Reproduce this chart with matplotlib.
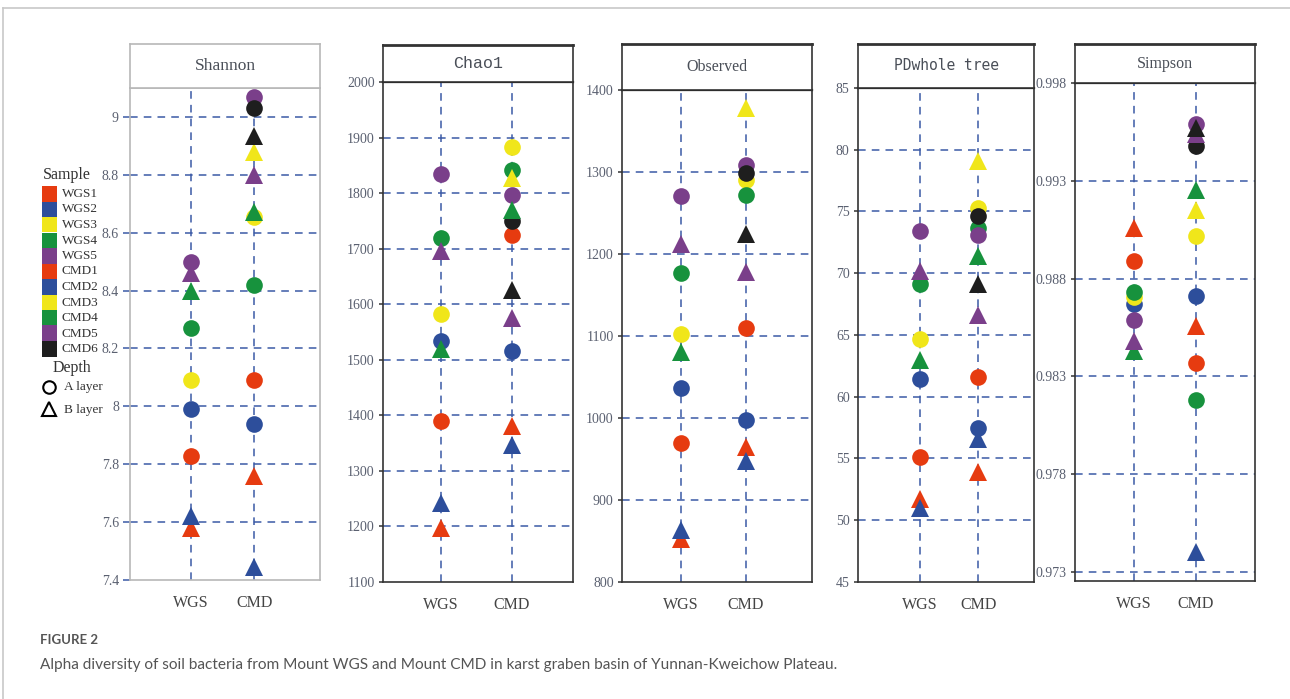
import numpy as np
import matplotlib
matplotlib.use('Agg')
import matplotlib.pyplot as plt
from matplotlib.patches import Rectangle
from matplotlib.lines import Line2D

nan = np.nan

# samples and colours
wgs_samples = ['WGS1', 'WGS2', 'WGS3', 'WGS4', 'WGS5']
cmd_samples = ['CMD1', 'CMD2', 'CMD3', 'CMD4', 'CMD5', 'CMD6']
wgs_colors = ['#e63b10', '#2d4e9b', '#f0e61a', '#17923d', '#7a3f8a']
cmd_colors = ['#e63b10', '#2d4e9b', '#f0e61a', '#17923d', '#7a3f8a', '#1e1e1e']
groups = ['WGS', 'CMD']

# values (A layer = circle, B layer = triangle)
shannon_wgs_a = [7.83, 7.99, 8.09, 8.27, 8.50]
shannon_wgs_b = [7.58, 7.62, nan, 8.40, 8.46]
shannon_cmd_a = [8.09, 7.94, 8.654, 8.42, 9.07, 9.03]
shannon_cmd_b = [7.76, 7.445, 8.88, 8.67, 8.80, 8.935]

chao1_wgs_a = [1390, 1533, 1583, 1720, 1835]
chao1_wgs_b = [1197, 1243, nan, 1520, 1695]
chao1_cmd_a = [1725, 1515, 1883, 1842, 1797, 1750]
chao1_cmd_b = [1381, 1347, 1827, 1770, 1575, 1625]

observed_wgs_a = [970, 1037, 1103, 1177, 1271]
observed_wgs_b = [852, 863, nan, 1081, 1212]
observed_cmd_a = [1110, 998, 1290, 1272, 1308, 1299]
observed_cmd_b = [965, 947, 1378, nan, 1178, 1224]

pd_wgs_a = [55.1, 61.4, 64.7, 69.1, 73.4]
pd_wgs_b = [51.7, 51.0, nan, 63.0, 70.2]
pd_cmd_a = [61.6, 57.5, 75.3, 73.7, 73.1, 74.6]
pd_cmd_b = [53.9, 56.6, 79.1, 71.4, 66.6, 69.1]

simpson_wgs_a = [0.9889, 0.9867, 0.98705, 0.9873, 0.9859]
simpson_wgs_b = [0.9906, nan, nan, 0.9843, 0.9848]
simpson_cmd_a = [0.9837, 0.9871, 0.9902, 0.9818, 0.9959, 0.9948]
simpson_cmd_b = [0.9856, 0.9740, 0.9915, 0.99255, 0.9954, 0.9957]

W, H = 1290, 699
fig = plt.figure(figsize=(W / 100, H / 100), dpi=100)
fig.patch.set_facecolor('white')

def box(l, t, r, b):
    return [l / W, 1 - b / H, (r - l) / W, (b - t) / H]

grid_c = '#3b5aa6'
dash = (0, (5, 4))

# panel settings: title, font, pixel box (left, header top, plot top, right, bottom), ylim, ticks, xlim
panels = [
    dict(title='Shannon', font='Liberation Serif', size=12.5, px=(130, 44, 88, 320, 580),
         ylim=(7.4, 9.1), ticks=[7.4, 7.6, 7.8, 8, 8.2, 8.4, 8.6, 8.8, 9],
         labels=['7.4', '7.6', '7.8', '8', '8.2', '8.4', '8.6', '8.8', '9'],
         xlim=(0.033, 3.045), frame='#b8b8b8', head='#b8b8b8',
         data=(shannon_wgs_a, shannon_wgs_b, shannon_cmd_a, shannon_cmd_b)),
    dict(title='Chao1', font='Liberation Mono', size=12, px=(383, 45, 82, 573, 582),
         ylim=(1100, 2000), ticks=list(range(1100, 2001, 100)),
         labels=[str(v) for v in range(1100, 2001, 100)],
         xlim=(0.184, 2.858), frame='#333333', head='#111111',
         data=(chao1_wgs_a, chao1_wgs_b, chao1_cmd_a, chao1_cmd_b)),
    dict(title='Observed', font='Liberation Serif', size=11.5, px=(622, 44, 90, 812, 582),
         ylim=(800, 1400), ticks=list(range(800, 1401, 100)),
         labels=[str(v) for v in range(800, 1401, 100)],
         xlim=(0.091, 3.015), frame='#333333', head='#111111',
         data=(observed_wgs_a, observed_wgs_b, observed_cmd_a, observed_cmd_b)),
    dict(title='PDwhole tree', font='DejaVu Sans Mono', size=10.5, px=(858, 44, 88, 1034, 582),
         ylim=(45, 85), ticks=list(range(45, 86, 5)),
         labels=[str(v) for v in range(45, 86, 5)],
         xlim=(-0.067, 2.963), frame='#333333', head='#111111',
         data=(pd_wgs_a, pd_wgs_b, pd_cmd_a, pd_cmd_b)),
    dict(title='Simpson', font='Liberation Serif', size=11.5, px=(1075, 44, 83, 1255, 581),
         ylim=(0.97254, 0.998), ticks=[0.973, 0.978, 0.983, 0.988, 0.993, 0.998],
         labels=['0.973', '0.978', '0.983', '0.988', '0.993', '0.998'],
         xlim=(0.046, 2.953), frame='#333333', head='#111111',
         data=(simpson_wgs_a, simpson_wgs_b, simpson_cmd_a, simpson_cmd_b)),
]

ms_a = 12    # circles
ms_b = 13.5  # triangles
for i, p in enumerate(panels):
    l, ht, t, r, b = p['px']
    ax = fig.add_axes(box(l, t, r, b))
    ax.set_xlim(*p['xlim'])
    ax.set_ylim(*p['ylim'])
    for s in ax.spines.values():
        s.set_color(p['frame'])
        s.set_linewidth(1.2)
    ax.spines['top'].set_color(p['head'])
    ax.spines['top'].set_linewidth(1.6 if i > 0 else 1.2)

    # dashed grid
    for v in p['ticks']:
        if p['ylim'][0] < v < p['ylim'][1]:
            ax.axhline(v, color=grid_c, lw=1.1, ls=dash, zorder=1)
    for xv in (1, 2):
        ax.axvline(xv, color=grid_c, lw=1.1, ls=dash, zorder=1)

    wa, wb, ca, cb = p['data']
    # circles (A layer) first, then triangles (B layer)
    for j in range(len(wgs_samples)):
        ax.plot(1, wa[j], 'o', ms=ms_a, color=wgs_colors[j], mew=0, zorder=3)
    for j in range(len(cmd_samples)):
        ax.plot(2, ca[j], 'o', ms=ms_a, color=cmd_colors[j], mew=0, zorder=3)
    for j in range(len(wgs_samples)):
        ax.plot(1, wb[j], '^', ms=ms_b, color=wgs_colors[j], mew=0, zorder=4)
    for j in range(len(cmd_samples)):
        ax.plot(2, cb[j], '^', ms=ms_b, color=cmd_colors[j], mew=0, zorder=4)

    ax.set_yticks(p['ticks'])
    ax.set_yticklabels(p['labels'], fontfamily='Liberation Serif', fontsize=10,
                       color='#5a6070')
    tick_c = grid_c if i == 0 else '#333333'
    ax.tick_params(axis='y', length=5 if i == 0 else 3, width=1.1, color=tick_c, pad=3)
    ax.set_xticks([1, 2])
    ax.set_xticklabels(groups, fontfamily='Liberation Serif', fontsize=11.5,
                       color='#444444')
    ax.tick_params(axis='x', length=0, pad=11)

    # header box with the index name
    hx = fig.add_axes(box(l, ht, r, t))
    hx.set_xticks([])
    hx.set_yticks([])
    for s in hx.spines.values():
        s.set_color(p['frame'])
        s.set_linewidth(1.2)
    hx.spines['top'].set_linewidth(1.2 if i == 0 else 2.0)
    hx.text(0.5, 0.5, p['title'], ha='center', va='center', fontsize=p['size'],
            fontfamily=p['font'], color='#4a4f58', transform=hx.transAxes)

# legend on the left
fig.text(67 / W, 1 - 175 / H, 'Sample', ha='center', va='center',
         fontfamily='Liberation Serif', fontsize=11.5, color='#333333')
leg_names = wgs_samples + cmd_samples
leg_colors = wgs_colors + cmd_colors
for k, (nm, c) in enumerate(zip(leg_names, leg_colors)):
    y0 = 186 + k * 15.5
    fig.add_artist(Rectangle((42 / W, 1 - (y0 + 15.5) / H), 15 / W, 15.5 / H,
                             transform=fig.transFigure, color=c, lw=0))
    fig.text(62 / W, 1 - (y0 + 8) / H, nm, ha='left', va='center',
             fontfamily='Liberation Serif', fontsize=9.5, color='#333333')
fig.text(72 / W, 1 - 368 / H, 'Depth', ha='center', va='center',
         fontfamily='Liberation Serif', fontsize=11.5, color='#333333')
fig.add_artist(Line2D([49 / W], [1 - 387 / H], marker='o', ms=9, mfc='none',
                      mec='black', mew=1.5, transform=fig.transFigure))
fig.add_artist(Line2D([49 / W], [1 - 409 / H], marker='^', ms=9.5, mfc='none',
                      mec='black', mew=1.5, transform=fig.transFigure))
fig.text(64 / W, 1 - 387 / H, 'A layer', ha='left', va='center',
         fontfamily='Liberation Serif', fontsize=9.5, color='#333333')
fig.text(64 / W, 1 - 410 / H, 'B layer', ha='left', va='center',
         fontfamily='Liberation Serif', fontsize=9.5, color='#333333')

# outer frame of the figure card
fig.add_artist(Line2D([3 / W, 1], [1 - 8 / H, 1 - 8 / H], color='#c8c8c8', lw=1.2,
                      transform=fig.transFigure))
fig.add_artist(Line2D([3 / W, 3 / W], [1 - 8 / H, 0], color='#c8c8c8', lw=1.2,
                      transform=fig.transFigure))

# caption
fig.text(40 / W, 1 - 640 / H, 'FIGURE 2', ha='left', va='center',
         fontfamily='Lato', fontsize=9.5, fontweight='bold', color='#555555')
fig.text(40 / W, 1 - 665 / H,
         'Alpha diversity of soil bacteria from Mount WGS and Mount CMD in karst graben basin of Yunnan-Kweichow Plateau.',
         ha='left', va='center', fontfamily='Lato', fontsize=11.1, color='#555555')

fig.savefig('out.png', dpi=100)
